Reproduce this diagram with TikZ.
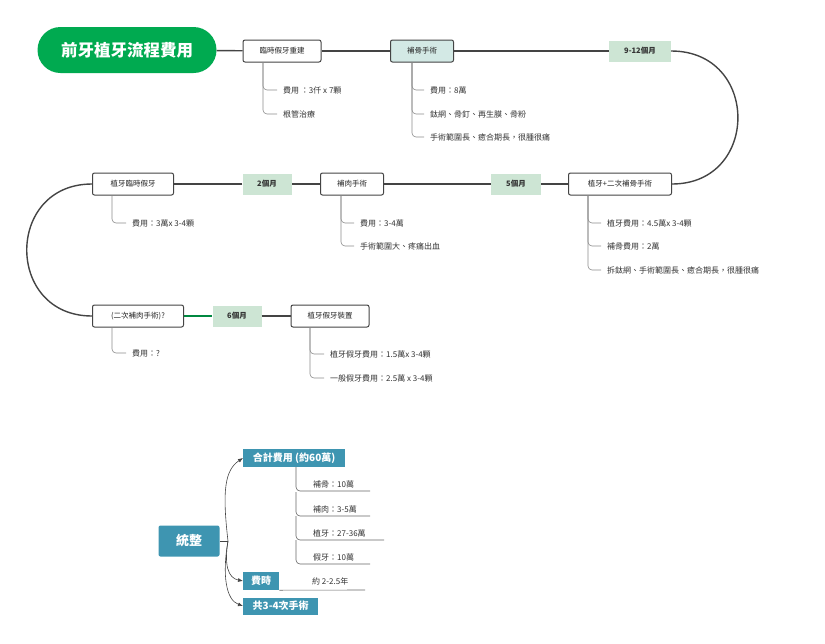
\documentclass[tikz,border=0pt]{standalone}
\usepackage{fontspec}
\setmainfont{Noto Sans CJK TC}
\usetikzlibrary{arrows.meta}
\definecolor{tg}{HTML}{00AA50}
\definecolor{lt}{HTML}{D3E9E5}
\definecolor{lg}{HTML}{CDE5D4}
\definecolor{bl}{HTML}{3E95B1}
\definecolor{ln}{HTML}{444444}
\begin{document}
\begin{tikzpicture}[x=1pt,y=-1pt,
 box/.style={draw=ln,line width=1pt,rounded corners=2pt,fill=white,minimum height=22pt,font=\fontsize{7.5}{8}\selectfont,text=black!85,inner xsep=0pt},
 tag/.style={fill=lg,minimum height=21pt,font=\fontsize{7.5}{8}\selectfont\bfseries,text=black!80,inner xsep=0pt},
 main/.style={line width=1.4pt,draw=ln},
 br/.style={draw=black!45,line width=0.6pt,rounded corners=4pt},
 it/.style={anchor=west,font=\fontsize{8}{9}\selectfont,text=black!80,inner sep=0pt},
 hd/.style={fill=bl,text=white,font=\fontsize{10}{11}\selectfont\bfseries,inner sep=0pt,anchor=west},
 sm/.style={it,font=\fontsize{8}{9}\selectfont}]
\useasboundingbox (0,0) rectangle (825,643);
\node[fill=tg,rounded corners=23pt,minimum width=179pt,minimum height=46pt,text=white,font=\fontsize{16.5}{18}\selectfont\bfseries] (t) at (127,50) {前牙植牙流程費用};
\node[box,minimum width=78pt] (n1) at (282,51) {臨時假牙重建};
\node[box,minimum width=63pt,fill=lt] (n2) at (422,51) {補骨手術};
\node[tag,minimum width=62pt] (g1) at (640,51) {9-12個月};
\node[box,minimum width=103pt] (n3) at (620,184) {植牙+二次補骨手術};
\node[tag,minimum width=50pt] (g2) at (516,184) {5個月};
\node[box,minimum width=63pt] (n4) at (352,184) {補肉手術};
\node[tag,minimum width=49pt] (g3) at (267,184) {2個月};
\node[box,minimum width=81pt] (n5) at (133,184) {植牙臨時假牙};
\node[box,minimum width=91pt] (n6) at (138,316) {(二次補肉手術)?};
\node[tag,minimum width=49pt] (g4) at (237,316) {6個月};
\node[box,minimum width=78pt] (n7) at (330,316) {植牙假牙裝置};
\draw[main] (t) -- (n1); \draw[main] (n1) -- (n2); \draw[main] (n2) -- (g1);
\draw[main] (g1.east) .. controls (760,51) and (760,184) .. (n3.east);
\draw[main] (n3) -- (g2); \draw[main] (g2) -- (n4); \draw[main] (n4) -- (g3); \draw[main] (g3) -- (n5);
\draw[main] (n5.west) .. controls (5,184) and (5,316) .. (n6.west);
\draw[line width=1.4pt,draw=tg!80!black] (n6) -- (g4); \draw[main] (g4) -- (n7);
\foreach \n/\x/\tx/\lst in {n1/263/283/{90/費用 ：3仟 x 7顆,114/根管治療},
  n2/412/430/{90/費用：8萬,114/鈦網、骨釘、再生膜、骨粉,137/手術範圍長、癒合期長，很腫很痛},
  n3/588/607/{223/植牙費用：4.5萬x 3-4顆,246/補骨費用：2萬,270/拆鈦網、手術範圍長、癒合期長，很腫很痛},
  n4/341/360/{223/費用：3-4萬,246/手術範圍大、疼痛出血},
  n5/112/132/{223/費用：3萬x 3-4顆},
  n6/112/132/{353/費用：?},
  n7/310/330/{354/植牙假牙費用：1.5萬x 3-4顆,378/一般假牙費用：2.5萬 x 3-4顆}}{
  \coordinate (bx) at (\x,0);
  \foreach \y/\s in \lst {
    \node[it] at (\tx,\y) {\s};
    \draw[br] (\n.south -| bx) -- (\x,\y) -- (\tx-6,\y);
  }
}
\node[fill=bl,rounded corners=2pt,minimum width=61pt,minimum height=31pt,text=white,font=\fontsize{13}{14}\selectfont\bfseries] (s) at (189,541) {統整};
\node[hd,minimum width=102pt,minimum height=18pt] (h1) at (243,458) {合計費用 (約60萬)};
\node[hd,minimum width=36pt,minimum height=18pt] (h2) at (243,581) {費時};
\node[hd,minimum width=75pt,minimum height=17pt] (h3) at (243,606) {共3-4次手術};
\coordinate (sj) at (228,541);
\draw[ln,line width=0.6pt] (s.east) -- (sj);
\draw[ln,line width=0.6pt,-{Latex[length=5pt,width=4pt]}] (sj) .. controls (222,490) and (225,470) .. (h1.west);
\draw[ln,line width=0.6pt,-{Latex[length=5pt,width=4pt]}] (sj) .. controls (224,565) and (228,578) .. (h2.west);
\draw[ln,line width=0.6pt,-{Latex[length=5pt,width=4pt]}] (sj) .. controls (222,575) and (226,600) .. (h3.west);
\foreach \y/\s/\e in {491/補骨：10萬/370,516/補肉：3-5萬/370,540/植牙：27-36萬/384,564/假牙：10萬/370}{
 \node[sm] at (313,\y-7) {\s};
 \draw[black!60,line width=0.6pt,rounded corners=4pt] (296,\y-24) -- (296,\y) -- (\e,\y);}
\node[sm] at (312,581) {約 2-2.5年};
\draw[black!60,line width=0.6pt] (h2.south east) -- (365,590);
\end{tikzpicture}
\end{document}
